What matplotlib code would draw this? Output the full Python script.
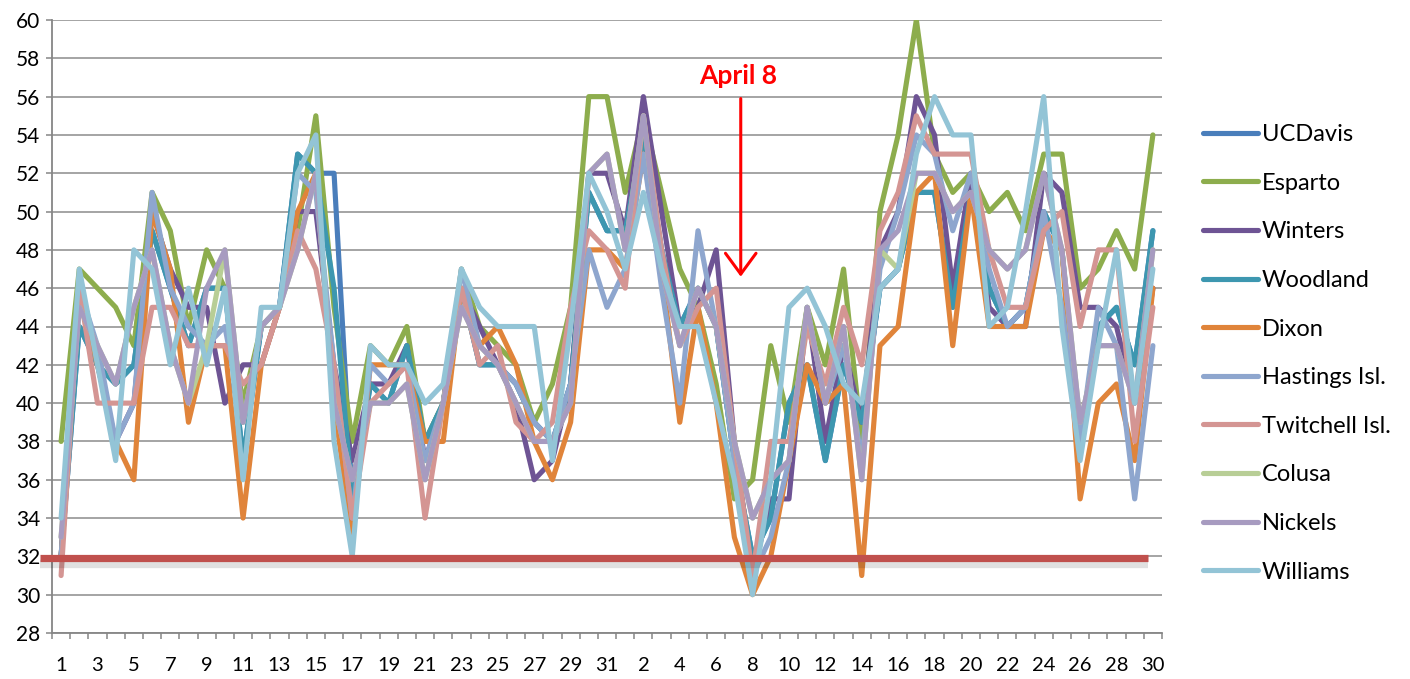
import numpy as np
import matplotlib
matplotlib.use('Agg')
import matplotlib.pyplot as plt
from matplotlib.ticker import FixedLocator, MultipleLocator

plt.rcParams['font.family'] = ['Lato', 'DejaVu Sans']

# day labels: March 1..31 then April 1..30
days = list(range(1, 32)) + list(range(1, 31))

stations = ["UCDavis", "Esparto", "Winters", "Woodland", "Dixon",
            "Hastings Isl.", "Twitchell Isl.", "Colusa", "Nickels", "Williams"]
colors = ['#4A7EBB', '#8DAD4D', '#6E5494', '#3D97B0', '#E0843A',
          '#8EA6CE', '#D49593', '#B8CE96', '#A79BC0', '#93C4D6']

ucdavis = [32, 44, 42, 41, 42, 49, 46, 43, 46, 46, 37, 44, 45, 53, 52, 52, 35, 41, 40, 43,
           38, 40, 46, 42, 42, 41, 39, 38, 41, 51, 49, 49, 54, 48, 44, 46, 44, 37, 32, 34,
           40, 42, 37, 42, 39, 46, 47, 51, 51, 45, 51, 46, 44, 45, 50, 48, 38, 44, 45, 42, 49]
esparto = [38, 47, 46, 45, 43, 51, 49, 44, 48, 46, 40, 44, 45, 49, 55, 45, 38, 43, 42, 44,
           38, 40, 47, 44, 43, 42, 39, 41, 45, 56, 56, 51, 55, 51, 47, 45, 41, 35, 36, 43,
           39, 45, 42, 47, 38, 50, 54, 60, 53, 51, 52, 50, 51, 49, 53, 53, 46, 47, 49, 47, 54]
winters = [32, 46, 42, 38, 40, 50, 47, 45, 45, 40, 42, 42, 45, 50, 50, 42, 37, 41, 41, 43,
           37, 40, 46, 44, 42, 40, 36, 37, 41, 52, 52, 49, 56, 50, 44, 45, 48, 38, 31, 35,
           35, 45, 38, 43, 39, 48, 50, 56, 54, 46, 52, 45, 44, 44, 52, 51, 45, 45, 44, 40, 46]
woodland = [32, 44, 42, 41, 42, 49, 46, 43, 46, 46, 37, 44, 45, 53, 52, 46, 35, 41, 40, 43,
            38, 40, 46, 42, 42, 41, 39, 38, 41, 51, 49, 49, 54, 48, 44, 46, 44, 37, 32, 34,
            40, 42, 37, 42, 39, 46, 47, 51, 51, 45, 51, 46, 44, 45, 50, 48, 38, 44, 45, 42, 49]
dixon = [32, 46, 42, 38, 36, 50, 47, 39, 43, 43, 34, 42, 45, 50, 52, 40, 33, 42, 42, 42,
         38, 38, 46, 43, 44, 42, 38, 36, 39, 48, 48, 47, 53, 47, 39, 45, 40, 33, 30, 32,
         37, 42, 40, 41, 31, 43, 44, 51, 52, 43, 51, 44, 44, 44, 49, 48, 35, 40, 41, 37, 46]
hastings = [32, 46, 43, 38, 40, 51, 46, 44, 43, 44, 39, 44, 45, 52, 51, 42, 34, 42, 41, 42,
            37, 40, 47, 43, 42, 41, 39, 38, 41, 48, 45, 47, 53, 46, 40, 49, 44, 37, 31, 33,
            37, 45, 40, 43, 37, 47, 50, 54, 53, 49, 52, 47, 44, 45, 50, 45, 38, 45, 43, 35, 43]
twitchell = [31, 46, 40, 40, 40, 45, 45, 43, 43, 43, 41, 42, 45, 49, 47, 42, 34, 40, 41, 42,
             34, 40, 46, 42, 43, 39, 38, 39, 45, 49, 48, 46, 55, 48, 43, 45, 46, 38, 31, 38,
             38, 44, 41, 45, 42, 49, 51, 55, 53, 53, 53, 48, 45, 45, 49, 50, 44, 48, 48, 38, 45]
colusa = [33, 45, 43, 41, 45, 48, 43, 40, 43, 48, 39, 44, 45, 48, 52, 40, 36, 40, 40, 41,
          36, 40, 45, 43, 42, 40, 38, 38, 40, 52, 53, 48, 55, 47, 43, 46, 44, 38, 34, 36,
          37, 45, 40, 44, 36, 48, 47, 52, 52, 50, 51, 48, 47, 48, 52, 48, 39, 43, 43, 40, 48]
nickels = [33, 45, 43, 41, 45, 48, 43, 40, 46, 48, 39, 44, 45, 48, 52, 40, 36, 40, 40, 41,
           36, 40, 45, 43, 42, 40, 38, 38, 40, 52, 53, 48, 55, 47, 43, 46, 44, 38, 34, 36,
           37, 45, 40, 44, 36, 48, 49, 52, 52, 50, 51, 48, 47, 48, 52, 48, 39, 43, 43, 40, 48]
williams = [34, 47, 42, 37, 48, 47, 42, 46, 42, 46, 36, 45, 45, 52, 54, 38, 32, 43, 42, 42,
            40, 41, 47, 45, 44, 44, 44, 37, 44, 52, 50, 47, 51, 47, 44, 44, 40, 36, 30, 36,
            45, 46, 44, 41, 40, 46, 47, 53, 56, 54, 54, 44, 45, 50, 56, 44, 37, 43, 48, 40, 47]

series = [ucdavis, esparto, winters, woodland, dixon,
          hastings, twitchell, colusa, nickels, williams]

threshold = 31.9
april8_pos = 37.35

x = np.arange(len(days))

fig = plt.figure(figsize=(14.1, 6.79), dpi=100)
ax = fig.add_axes([52 / 1410, 1 - 633 / 679, 1110 / 1410, 613 / 679])

for vals, name, c in zip(series, stations, colors):
    ax.plot(x, vals, color=c, lw=3.7, label=name,
            solid_joinstyle='round', solid_capstyle='round', zorder=3)

# red threshold line with a soft shadow
ax.plot([-1.15, 59.73], [threshold - 0.3, threshold - 0.3], color='#000000',
        lw=6, alpha=0.12, clip_on=False, zorder=4, solid_capstyle='butt')
ax.plot([-1.15, 59.73], [threshold, threshold], color='#C0504D',
        lw=5.2, clip_on=False, zorder=5, solid_capstyle='butt')

# April 8 annotation
ax.annotate('', xy=(april8_pos, 46.6), xytext=(april8_pos, 55.9),
            arrowprops=dict(arrowstyle='->,head_length=0.75,head_width=0.55',
                            color='#FF0000', lw=2.2, shrinkA=0, shrinkB=0,
                            mutation_scale=20), zorder=6)
ax.text(april8_pos - 0.15, 57.1, 'April 8', color='#FF0000', fontsize=19,
        fontweight='bold', ha='center', va='center', zorder=6)

ax.set_xlim(-0.5, len(days) - 0.5)
ax.set_ylim(28, 60)
ax.yaxis.set_major_locator(MultipleLocator(2))
ax.grid(axis='y', color='#8C8C8C', lw=1.1, zorder=0)
ax.set_axisbelow(True)

ax.set_xticks(x[::2])
ax.set_xticklabels([str(d) for d in days[::2]])
ax.xaxis.set_minor_locator(FixedLocator(np.arange(-0.5, len(days), 1)))
ax.tick_params(axis='x', which='major', length=0, pad=17, labelsize=14.5)
ax.tick_params(axis='x', which='minor', length=4.5, width=1.1, color='#868686')
ax.tick_params(axis='y', which='major', length=4.5, width=1.1, color='#868686',
               labelsize=15, pad=4)

for s in ['top', 'right']:
    ax.spines[s].set_visible(False)
for s in ['left', 'bottom']:
    ax.spines[s].set_color('#868686')
    ax.spines[s].set_linewidth(1.3)

leg = fig.legend(loc='upper left', bbox_to_anchor=(1203 / 1410, 1 - 124 / 679),
                 frameon=False, fontsize=17, handlelength=2.33, handletextpad=0.17,
                 labelspacing=1.17, borderaxespad=0, borderpad=0)
for h in leg.get_lines():
    h.set_linewidth(3.7)
    h.set_solid_capstyle('round')

fig.savefig('out.png', dpi=100)
